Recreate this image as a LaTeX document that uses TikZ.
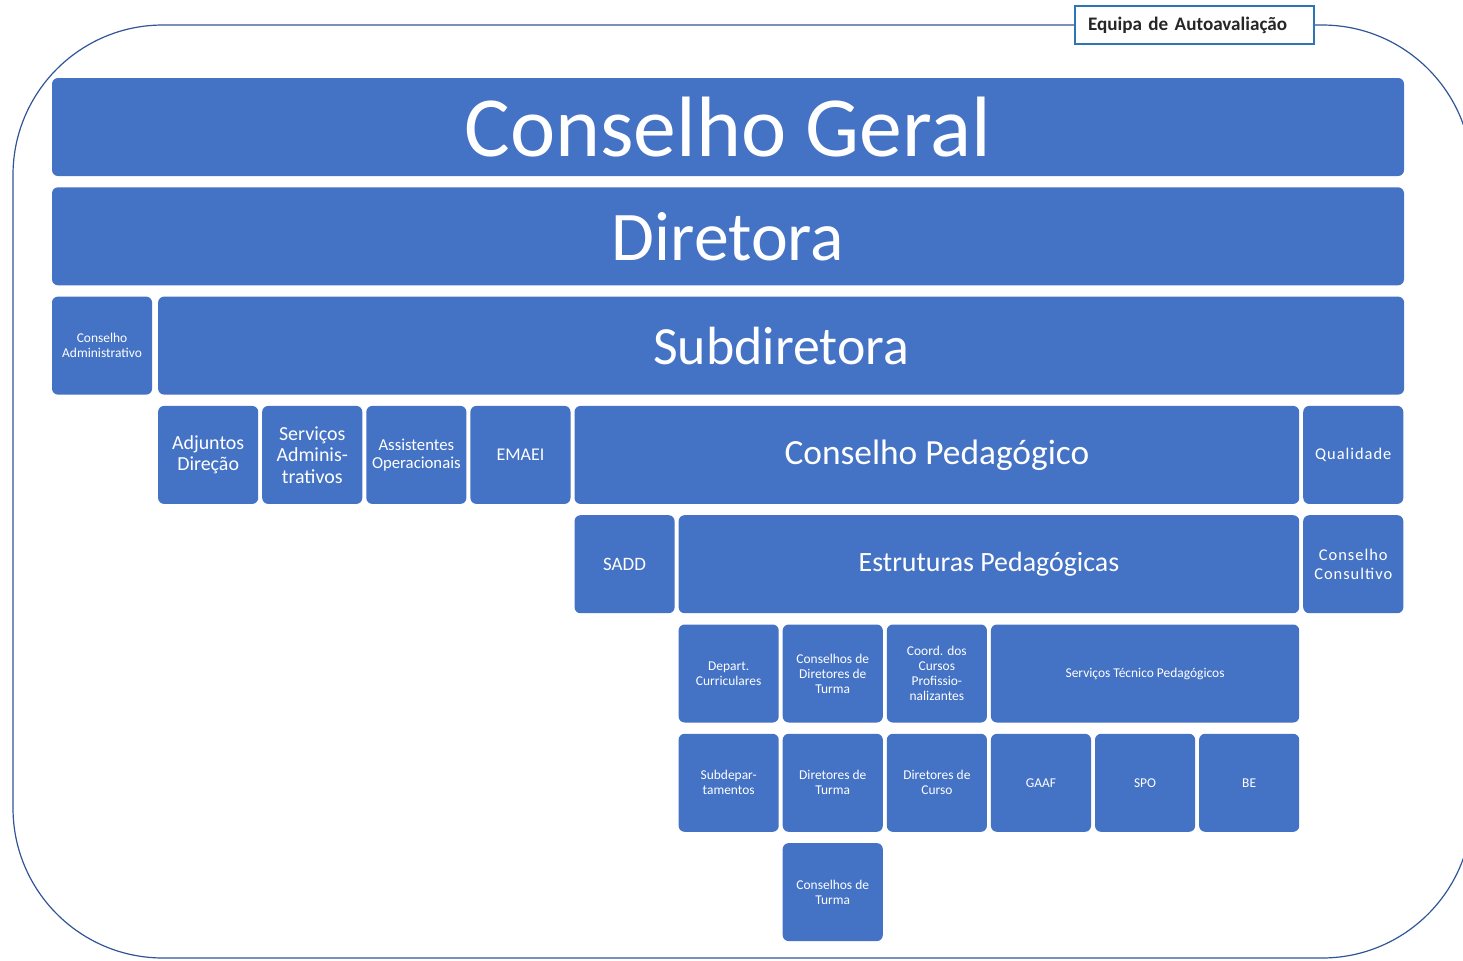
\documentclass[tikz,border=0pt]{standalone}
\usepackage{fontspec}
\setmainfont{Carlito}
\newfontfamily\spacedfont[LetterSpace=6]{Carlito}
\usepackage{tikz}
\usetikzlibrary{positioning}
\usepackage{xcolor}
\definecolor{boxblue}{HTML}{4472C4}
\definecolor{framebl}{HTML}{2F5597}
\definecolor{teambl}{HTML}{2E75B6}
\tikzstyle{box_cust}=[minimum height=98bp, minimum width=100.1bp, inner sep=1bp, outer sep=0bp, fill=boxblue, rounded corners=6bp, text=white, align=center, font=\fontsize{13.5}{15}\selectfont]
\tikzstyle{span}=[minimum width=#1*104.1bp-4bp]
\tikzstyle{huge_txt}=[font=\fontsize{86}{90}\selectfont]
\tikzstyle{big_txt}=[font=\fontsize{70}{74}\selectfont]
\tikzstyle{mid_txt}=[font=\fontsize{54}{57}\selectfont]
\tikzstyle{sub_txt}=[font=\fontsize{20}{21.5}\selectfont]
\tikzstyle{spaced_txt}=[font=\spacedfont\fontsize{16.5}{19}\selectfont]
\tikzstyle{frame}=[framebl, line width=1.2bp, rounded corners=150bp]
\tikzstyle{team_box}=[draw=teambl, line width=1.2bp, fill=white, text width=213bp, inner xsep=13bp, minimum height=38bp, align=left, font=\bfseries\fontsize{19.2}{20}\selectfont, text=black!85]

\begin{document}
\begin{tikzpicture}[
    x=1bp, y=-1bp,
    node distance=11.3bp]

\useasboundingbox (0,0) rectangle (1463,960);

% outer frame and team label
        \draw[frame] (13,25) rectangle (1472,958);
        \node[team_box] (equipa) at (1194.5,25) {Equipa de Autoavaliação};

% top levels
        \node[box_cust, minimum width=1352bp, huge_txt, anchor=north west] (cgeral) at (52,78) {Conselho Geral};
        \node[box_cust, minimum width=1352bp, big_txt, below=of cgeral] (diretora) {Diretora};
        \node[box_cust, below right=11.3bp and 0bp of diretora.south west] (cadm) {Conselho\\Administrativo};
        \node[box_cust, minimum width=1246bp, mid_txt, right=6bp of cadm] (subdir) {Subdiretora};

% under the subdirector
        \node[box_cust, sub_txt, below right=11.3bp and 0bp of subdir.south west] (adj) {Adjuntos\\Direção};
        \node[box_cust, sub_txt, right=4bp of adj] (servadm) {Serviços\\Adminis-\\trativos};
        \node[box_cust, font=\fontsize{16.8}{18}\selectfont, right=4bp of servadm] (assist) {Assistentes\\Operacionais};
        \node[box_cust, font=\fontsize{18}{20}\selectfont, right=4bp of assist] (emaei) {EMAEI};
        \node[box_cust, span=7, font=\fontsize{35.5}{38}\selectfont, right=4bp of emaei] (cped) {Conselho Pedagógico};
        \node[box_cust, spaced_txt, right=4bp of cped] (qual) {Qualidade};

        \node[box_cust, font=\fontsize{19}{21}\selectfont, below right=11.3bp and 0bp of cped.south west] (sadd) {SADD};
        \node[box_cust, span=6, font=\fontsize{28}{31}\selectfont, right=4bp of sadd] (estr) {Estruturas Pedagógicas};
        \node[box_cust, spaced_txt, right=4bp of estr] (ccons) {Conselho\\Consultivo};

% pedagogical structures
        \node[box_cust, below right=11.3bp and 0bp of estr.south west] (dep) {Depart.\\Curriculares};
        \node[box_cust, right=4bp of dep] (cdt) {Conselhos de\\Diretores de\\Turma};
        \node[box_cust, right=4bp of cdt] (coord) {Coord. dos\\Cursos\\Profissio-\\nalizantes};
        \node[box_cust, span=3, right=4bp of coord] (stp) {Serviços Técnico Pedagógicos};

        \node[box_cust, below right=11.3bp and 0bp of dep.south west] (subdep) {Subdepar-\\tamentos};
        \node[box_cust, right=4bp of subdep] (dt) {Diretores de\\Turma};
        \node[box_cust, right=4bp of dt] (dc) {Diretores de\\Curso};
        \node[box_cust, right=4bp of dc] (gaaf) {GAAF};
        \node[box_cust, right=4bp of gaaf] (spo) {SPO};
        \node[box_cust, right=4bp of spo] (be) {BE};

        \node[box_cust, below right=11.3bp and 0bp of dt.south west] (ct) {Conselhos de\\Turma};

\end{tikzpicture}
\end{document}
